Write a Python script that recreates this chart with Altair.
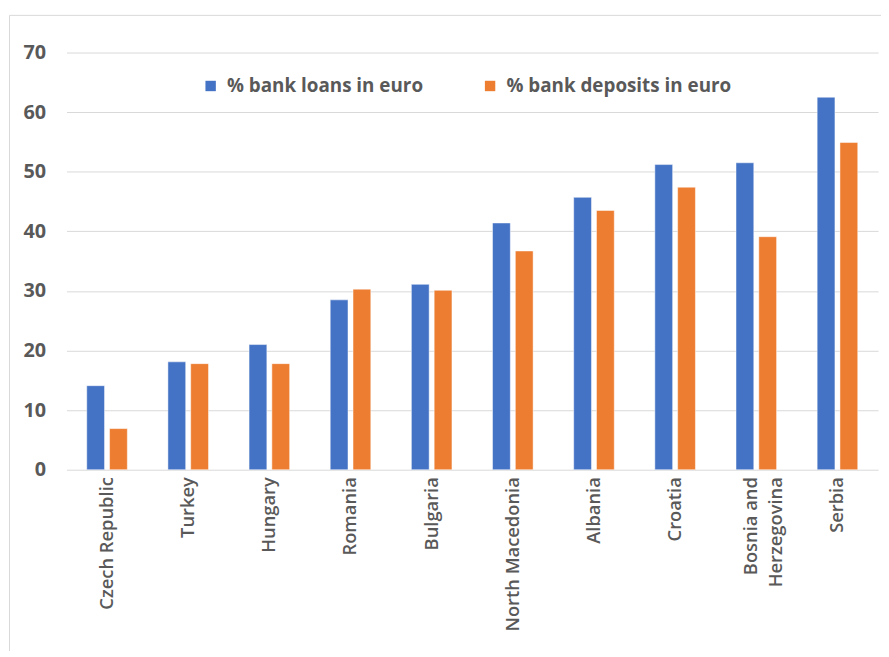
import altair as alt
import pandas as pd

countries = ["Czech Republic", "Turkey", "Hungary", "Romania", "Bulgaria",
             "North Macedonia", "Albania", "Croatia", "Bosnia and Herzegovina", "Serbia"]
loans = [14.1, 18.1, 21.0, 28.5, 31.1, 41.4, 45.7, 51.2, 51.5, 62.5]
deposits = [6.9, 17.8, 17.8, 30.3, 30.1, 36.7, 43.5, 47.4, 39.1, 54.9]
series = ["% bank loans in euro", "% bank deposits in euro"]
colors = ["#4472C4", "#ED7D31"]
y_ticks = [0, 10, 20, 30, 40, 50, 60, 70]

rows = []
for c, l, d in zip(countries, loans, deposits):
    rows.append({"country": c, "series": series[0], "value": l})
    rows.append({"country": c, "series": series[1], "value": d})
df = pd.DataFrame(rows)

W, H = 819, 421
TEXT = "#595959"
FONT = "Open Sans"

bars = alt.Chart(df).mark_bar(stroke="white", strokeWidth=0.8, strokeOpacity=0.6).encode(
    x=alt.X("country:N", sort=countries, title=None,
            scale=alt.Scale(paddingInner=0.5, paddingOuter=0.25),
            axis=alt.Axis(labelAngle=-90, labelAlign="right", labelBaseline="middle",
                          labelPadding=7, labelFontSize=18.5, labelFont=FONT,
                          labelFontWeight=600, labelColor=TEXT, domain=False, ticks=False,
                          labelLineHeight=25, labelLimit=0,
                          labelOffset=alt.condition("datum.value == 'Bosnia and Herzegovina'",
                                                    alt.value(-5), alt.value(0)),
                          labelExpr="datum.value == 'Bosnia and Herzegovina' ? ['Bosnia and', 'Herzegovina'] : datum.value")),
    xOffset=alt.XOffset("series:N", sort=series,
                        scale=alt.Scale(paddingInner=0.22, paddingOuter=0)),
    y=alt.Y("value:Q", title=None,
            scale=alt.Scale(domain=[0, 70], nice=False),
            axis=alt.Axis(values=y_ticks, grid=True, gridColor="#D9D9D9", gridWidth=1,
                          domain=False, ticks=False, labelPadding=21, labelFontSize=20,
                          labelFont=FONT, labelFontWeight="bold", labelColor=TEXT)),
    color=alt.Color("series:N", sort=series,
                    scale=alt.Scale(domain=series, range=colors),
                    legend=alt.Legend(title=None, orient="none", direction="horizontal",
                                      legendX=136, legendY=24, symbolType="square",
                                      symbolSize=110, symbolStrokeWidth=0,
                                      labelFont=FONT, labelFontSize=19, labelFontWeight="bold",
                                      labelColor=TEXT, labelOffset=7, columnPadding=58,
                                      labelLimit=0, padding=0)),
)

frame_df = pd.DataFrame({"k": [0]})
left_line = alt.Chart(frame_df).mark_rule(color="#D9D9D9", strokeWidth=1).encode(
    x=alt.value(-57.5), y=alt.value(-37.5), y2=alt.value(H + 200))
top_line = alt.Chart(frame_df).mark_rule(color="#D9D9D9", strokeWidth=1).encode(
    x=alt.value(-57.5), x2=alt.value(W + 10), y=alt.value(-37.5))

chart = alt.layer(bars, left_line, top_line).properties(
    width=W, height=H,
    autosize=alt.AutoSizeParams(type="none"),
    padding={"left": 59, "top": 42, "right": 3, "bottom": 180},
    background="white",
).configure_view(stroke=None)

chart.save("out.html", embed_options={"renderer": "svg", "actions": False})
